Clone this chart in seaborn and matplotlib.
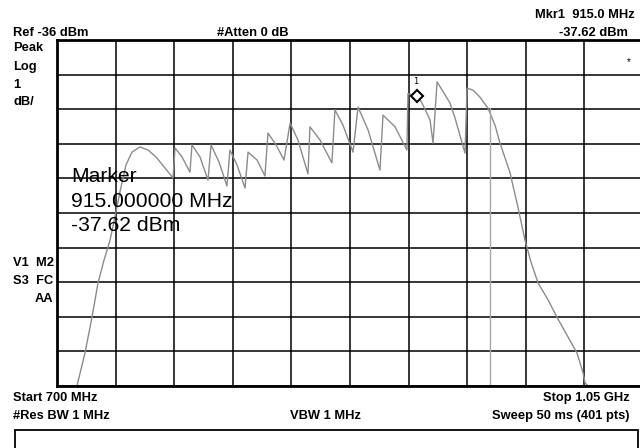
import numpy as np
import pandas as pd
import matplotlib
matplotlib.use("Agg")
import matplotlib.pyplot as plt
from matplotlib.patches import Rectangle
import seaborn as sns

# 频谱仪扫描数据 (MHz, dBm), 从截图读取
freq_mhz = [711.9, 716.7, 720.9, 724.5, 728.1, 731.7, 734.0, 737.6, 741.2, 744.8,
            749.6, 754.4, 759.1, 764.5, 769.3,
            770.5, 774.7, 779.4,
            780.6, 785.4, 790.2,
            792.0, 796.8, 801.5,
            803.3, 807.5, 812.3,
            814.1, 819.5, 824.2,
            826.0, 830.8, 835.6,
            839.2, 843.9, 849.9,
            851.1, 857.1, 864.2,
            866.0, 870.8, 876.8,
            879.8, 885.8, 892.9,
            894.7, 901.9, 909.0,
            909.6, 915.0, 918.0, 922.8,
            924.6, 927.0, 931.1, 934.7, 937.7, 943.7,
            944.9, 948.5, 952.6, 957.4,
            961.6, 964.6, 970.6, 975.3, 979.5, 983.1, 987.3, 993.3,
            998.6, 1004.6, 1010.6, 1014.2, 1015.4, 1017.2]
level_dbm = [-46.0, -45.05, -44.01, -43.02, -42.36, -41.78, -41.26, -40.39, -39.61, -39.24,
             -39.09, -39.18, -39.38, -39.70, -39.99,
             -39.12, -39.38, -39.82,
             -39.03, -39.38, -40.05,
             -39.03, -39.53, -40.22,
             -39.18, -39.61, -40.28,
             -39.24, -39.47, -39.93,
             -38.69, -39.03, -39.47,
             -38.40, -38.89, -39.87,
             -38.51, -38.89, -39.55,
             -38.02, -38.46, -39.24,
             -37.94, -38.60, -39.76,
             -38.17, -38.51, -39.18,
             -37.55, -37.62, -37.82, -38.31,
             -38.98, -37.21, -37.53, -37.82, -38.25, -39.27,
             -37.39, -37.45, -37.65, -37.97,
             -38.46, -38.98, -39.84, -40.83, -41.78, -42.42, -43.02, -43.51,
             -44.01, -44.53, -45.05, -45.62, -45.91, -46.0]

# 垂直竖线 (第二条迹线)
drop_mhz = [958.6, 958.6]
drop_dbm = [-37.97, -46.0]

mkr_mhz = 915.0
mkr_dbm = -37.62

start_mhz, stop_mhz = 700, 1050
ref_dbm, db_div = -36, 1

sns.set_theme(style="white")
plt.rcParams['font.family'] = ['Liberation Sans', 'DejaVu Sans']

fig = plt.figure(figsize=(6.4, 4.48), dpi=100)
W, H = 640, 448
ax = fig.add_axes([57 / W, 62 / H, 586 / W, 346 / H])

trace = pd.DataFrame({"f": freq_mhz, "p": level_dbm})
sns.lineplot(data=trace, x="f", y="p", sort=False, estimator=None,
             color="#8c8c8c", linewidth=1.0, ax=ax)
ax.plot(drop_mhz, drop_dbm, color="#a8a8a8", linewidth=1.0)
ax.plot([mkr_mhz], [mkr_dbm], marker="D", markersize=6, markerfacecolor="white",
        markeredgecolor="black", markeredgewidth=1.5, linestyle="none")
ax.text(mkr_mhz - 1.5, mkr_dbm + 0.28, "1", fontsize=6, color="black",
        family=["DejaVu Sans Mono"], ha="left", va="bottom")

ax.set_xlim(start_mhz, stop_mhz)
ax.set_ylim(ref_dbm - 10 * db_div, ref_dbm)
ax.set_xticks(np.linspace(start_mhz, stop_mhz, 11))
ax.set_yticks(np.linspace(ref_dbm - 10 * db_div, ref_dbm, 11))
ax.set_xticklabels([])
ax.set_yticklabels([])
ax.tick_params(length=0)
ax.set_xlabel("")
ax.set_ylabel("")
ax.grid(True, color="black", linewidth=1.1)
ax.set_axisbelow(True)
for s in ax.spines.values():
    s.set_color("black")
    s.set_linewidth(2.0)

def txt(x, y, s, ha="left", size=9.3, weight="bold"):
    fig.text(x / W, 1 - y / H, s, ha=ha, va="center", fontsize=size,
             fontweight=weight, color="black")

txt(13, 33, "Ref -36 dBm")
txt(217, 33, "#Atten 0 dB")
txt(635, 15, "Mkr1  915.0 MHz", ha="right")
txt(628, 33, "-37.62 dBm", ha="right")
txt(13, 48, "Peak")
txt(13, 67, "Log")
txt(13, 85, "1")
txt(13, 102, "dB/")
txt(627, 62, "*", size=7, weight="normal")
txt(13, 263, "V1  M2")
txt(13, 281, "S3  FC")
txt(53, 299, "AA", ha="right")
txt(13, 398, "Start 700 MHz")
txt(13, 416, "#Res BW 1 MHz")
txt(326, 416, "VBW 1 MHz", ha="center")
txt(630, 398, "Stop 1.05 GHz", ha="right")
txt(629, 416, "Sweep 50 ms (401 pts)", ha="right")

txt(71, 177, "Marker", size=15.2, weight="normal")
txt(71, 201, "915.000000 MHz", size=15.2, weight="normal")
txt(71, 225, "-37.62 dBm", size=15.2, weight="normal")

fig.patches.append(Rectangle((15 / W, -20 / H), 623 / W, 38 / H, transform=fig.transFigure,
                             fill=False, edgecolor="black", linewidth=1.3))

fig.savefig("out.png", dpi=100, facecolor="white")
